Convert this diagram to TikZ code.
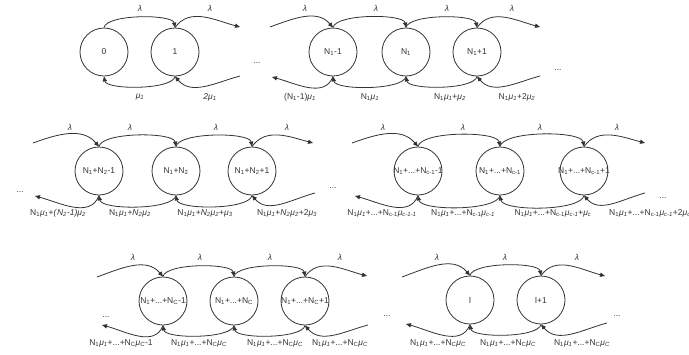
\documentclass[tikz,border=0pt]{standalone}
\usepackage{fontspec}
\setmainfont{Liberation Sans}
\usetikzlibrary{arrows.meta}

\definecolor{lc}{HTML}{333333}
\definecolor{tc}{HTML}{333333}

\newcommand\fs{\fontsize{8.5}{10}\selectfont}
\newcommand\Nn[1]{N\textsubscript{#1}}
\newcommand\Ni[1]{\textit{N\textsubscript{#1}}}
\newcommand\mm[1]{\textit{μ\textsubscript{#1}}}
\newcommand\lam{\textit{λ}}
\newcommand\wide[1]{\makebox[0pt]{#1}}

\tikzset{
  st/.style={circle, draw=lc, line width=0.8pt, minimum size=48pt, inner sep=0pt, font=\fs, text=tc},
  tr/.style={draw=lc, line width=0.8pt, -{Triangle[length=5pt,width=4.2pt]}},
  topc/.style={out=80, in=100, looseness=0.5},
  botc/.style={out=-100, in=-80, looseness=0.5},
  lbl/.style={font=\fs, text=tc, inner sep=0pt},
}

\begin{document}
\begin{tikzpicture}[x=1pt, y=1pt]
\useasboundingbox[fill=white] (0,0) rectangle (689,-354);

% ---------- row 1 ----------
\node[st] (n0) at (104,-52) {0};
\node[st] (n1) at (175,-52) {1};
\node[st] (a1) at (333,-52) {\Nn1-1};
\node[st] (a2) at (406,-52) {\Nn1};
\node[st] (a3) at (477,-52) {\Nn1+1};
\coordinate (n2t) at (240,-27);
\coordinate (n2b) at (240,-76);
\coordinate (a0t) at (270,-27);
\coordinate (a0b) at (272,-77);
\coordinate (a4t) at (540,-27);
\coordinate (a4b) at (540,-76);

\draw[tr] (n0.north) to[topc] (n1.north);
\draw[tr] (n1.north) to[out=55, in=165] (n2t);
\draw[tr] (n1.south) to[botc] (n0.south);
\draw[tr] (n2b) to[out=-165, in=-50] (n1.south);

\draw[tr] (a0t) to[out=20, in=130] (a1.north);
\draw[tr] (a1.north) to[topc] (a2.north);
\draw[tr] (a2.north) to[topc] (a3.north);
\draw[tr] (a3.north) to[out=55, in=165] (a4t);
\draw[tr] (a1.south) to[out=-110, in=-15] (a0b);
\draw[tr] (a2.south) to[botc] (a1.south);
\draw[tr] (a3.south) to[botc] (a2.south);
\draw[tr] (a4b) to[out=-165, in=-50] (a3.south);

\node[lbl] (t11) at (140,-8) {\lam};
\node[lbl] (t12) at (210,-8) {\lam};
\node[lbl] (t13) at (305,-8) {\lam};
\node[lbl] (t14) at (376,-8) {\lam};
\node[lbl] (t15) at (447,-8) {\lam};
\node[lbl] (t16) at (512,-8) {\lam};
\node[lbl] (b11) at (140,-97) {\mm1};
\node[lbl] (b12) at (210,-97) {\textit{2}\mm1};
\node[lbl] (b13) at (300,-97) {(\Nn1-1)\mm1};
\node[lbl] (b14) at (370,-97) {\Nn1\mm1};
\node[lbl] (b15) at (450,-97) {\Nn1\mm1+\mm2};
\node[lbl] (b16) at (517,-97) {\Nn1\mm1+2\mm2};
\node[lbl] (d11) at (257,-63) {...};
\node[lbl] (d12) at (558,-70) {...};

% ---------- row 2, left ----------
\node[st] (b1) at (99,-171) {\Nn1+\Nn2-1};
\node[st] (b2) at (176,-171) {\Nn1+\Nn2};
\node[st] (b3) at (252,-171) {\Nn1+\Nn2+1};
\coordinate (b0t) at (33,-143);
\coordinate (b0b) at (35,-196);
\coordinate (b4t) at (313,-143);
\coordinate (b4b) at (315,-193);

\draw[tr] (b0t) to[out=20, in=130] (b1.north);
\draw[tr] (b1.north) to[topc] (b2.north);
\draw[tr] (b2.north) to[topc] (b3.north);
\draw[tr] (b3.north) to[out=55, in=165] (b4t);
\draw[tr] (b1.south) to[out=-110, in=-15] (b0b);
\draw[tr] (b2.south) to[botc] (b1.south);
\draw[tr] (b3.south) to[botc] (b2.south);
\draw[tr] (b4b) to[out=-165, in=-50] (b3.south);

\node[lbl] (t21) at (70,-127) {\lam};
\node[lbl] (t22) at (130,-127) {\lam};
\node[lbl] (t23) at (216,-127) {\lam};
\node[lbl] (t24) at (287,-127) {\lam};
\node[lbl] (b21) at (58,-213) {\Nn1\mm1+\textit{(}\Ni2\textit{-1)}\mm2};
\node[lbl] (b22) at (130,-213) {\Nn1\mm1+\Ni2\mm2};
\node[lbl] (b23) at (205,-213) {\Nn1\mm1+\Ni2\mm2+\mm3};
\node[lbl] (b24) at (287,-213) {\Nn1\mm1+\Ni2\mm2+2\mm3};
\node[lbl] (d21) at (20,-192) {...};
\node[lbl] (d22) at (333,-188) {...};

% ---------- row 2, right ----------
\node[st] (c1) at (418,-171) {\wide{\Nn1+...+\Nn{c-1}-1}};
\node[st] (c2) at (500,-171) {\wide{\Nn1+...+\Nn{c-1}}};
\node[st] (c3) at (584,-171) {\wide{\Nn1+...+\Nn{c-1}+1}};
\coordinate (c0t) at (352,-143);
\coordinate (c0b) at (355,-196);
\coordinate (c4t) at (645,-143);
\coordinate (c4b) at (645,-193);

\draw[tr] (c0t) to[out=20, in=130] (c1.north);
\draw[tr] (c1.north) to[topc] (c2.north);
\draw[tr] (c2.north) to[topc] (c3.north);
\draw[tr] (c3.north) to[out=55, in=165] (c4t);
\draw[tr] (c1.south) to[out=-110, in=-15] (c0b);
\draw[tr] (c2.south) to[botc] (c1.south);
\draw[tr] (c3.south) to[botc] (c2.south);
\draw[tr] (c4b) to[out=-165, in=-50] (c3.south);

\node[lbl] (t31) at (383,-127) {\lam};
\node[lbl] (t32) at (463,-127) {\lam};
\node[lbl] (t33) at (540,-127) {\lam};
\node[lbl] (t34) at (617,-127) {\lam};
\node[lbl] (b31) at (382,-213) {\Nn1\mm1+...+\Nn{c-1}\mm{c-1-1}};
\node[lbl] (b32) at (463,-213) {\Nn1\mm1+...+\Nn{c-1}\mm{c-1}};
\node[lbl] (b33) at (553,-213) {\Nn1\mm1+...+\Nn{c-1}\mm{c-1}+\mm{c}};
\node[lbl] (b34) at (650,-213) {\Nn1\mm1+...+\Nn{c-1}\mm{c-1}+2\mm{c}};
\node[lbl] (d31) at (663,-198) {...};

% ---------- row 3, left ----------
\node[st] (e1) at (163,-301) {\wide{\Nn1+...+\Nn{C}-1}};
\node[st] (e2) at (234,-301) {\wide{\Nn1+...+\Nn{C}}};
\node[st] (e3) at (305,-301) {\wide{\Nn1+...+\Nn{C}+1}};
\coordinate (e0t) at (97,-277);
\coordinate (e0b) at (102,-325);
\coordinate (e4t) at (367,-276);
\coordinate (e4b) at (368,-325);

\draw[tr] (e0t) to[out=20, in=130] (e1.north);
\draw[tr] (e1.north) to[topc] (e2.north);
\draw[tr] (e2.north) to[topc] (e3.north);
\draw[tr] (e3.north) to[out=55, in=165] (e4t);
\draw[tr] (e1.south) to[out=-110, in=-15] (e0b);
\draw[tr] (e2.south) to[botc] (e1.south);
\draw[tr] (e3.south) to[botc] (e2.south);
\draw[tr] (e4b) to[out=-165, in=-50] (e3.south);

\node[lbl] (t41) at (133,-257) {\lam};
\node[lbl] (t42) at (200,-257) {\lam};
\node[lbl] (t43) at (270,-257) {\lam};
\node[lbl] (t44) at (340,-257) {\lam};
\node[lbl] (b41) at (121,-343) {\Nn1\mm1+...+\Nn{C}\mm{C}-1};
\node[lbl] (b42) at (199,-343) {\Nn1\mm1+...+\Nn{C}\mm{C}};
\node[lbl] (b43) at (275,-343) {\Nn1\mm1+...+\Nn{C}\mm{C}};
\node[lbl] (b44) at (340,-343) {\Nn1\mm1+...+\Nn{C}\mm{C}};
\node[lbl] (d41) at (106,-317) {...};
\node[lbl] (d42) at (387,-316) {...};

% ---------- row 3, right ----------
\node[st] (f1) at (470,-300) {l};
\node[st] (f2) at (541,-300) {l+1};
\coordinate (f0t) at (402,-277);
\coordinate (f0b) at (406,-324);
\coordinate (f3t) at (605,-276);
\coordinate (f3b) at (607,-323);

\draw[tr] (f0t) to[out=20, in=130] (f1.north);
\draw[tr] (f1.north) to[topc] (f2.north);
\draw[tr] (f2.north) to[out=55, in=165] (f3t);
\draw[tr] (f1.south) to[out=-110, in=-15] (f0b);
\draw[tr] (f2.south) to[botc] (f1.south);
\draw[tr] (f3b) to[out=-165, in=-50] (f2.south);

\node[lbl] (t51) at (437,-257) {\lam};
\node[lbl] (t52) at (505,-257) {\lam};
\node[lbl] (t53) at (577,-257) {\lam};
\node[lbl] (b51) at (438,-343) {\Nn1\mm1+...+\Nn{C}\mm{C}};
\node[lbl] (b52) at (508,-343) {\Nn1\mm1+...+\Nn{C}\mm{C}};
\node[lbl] (b53) at (582,-343) {\Nn1\mm1+...+\Nn{C}\mm{C}};
\node[lbl] (d51) at (617,-316) {...};
\end{tikzpicture}
\end{document}
